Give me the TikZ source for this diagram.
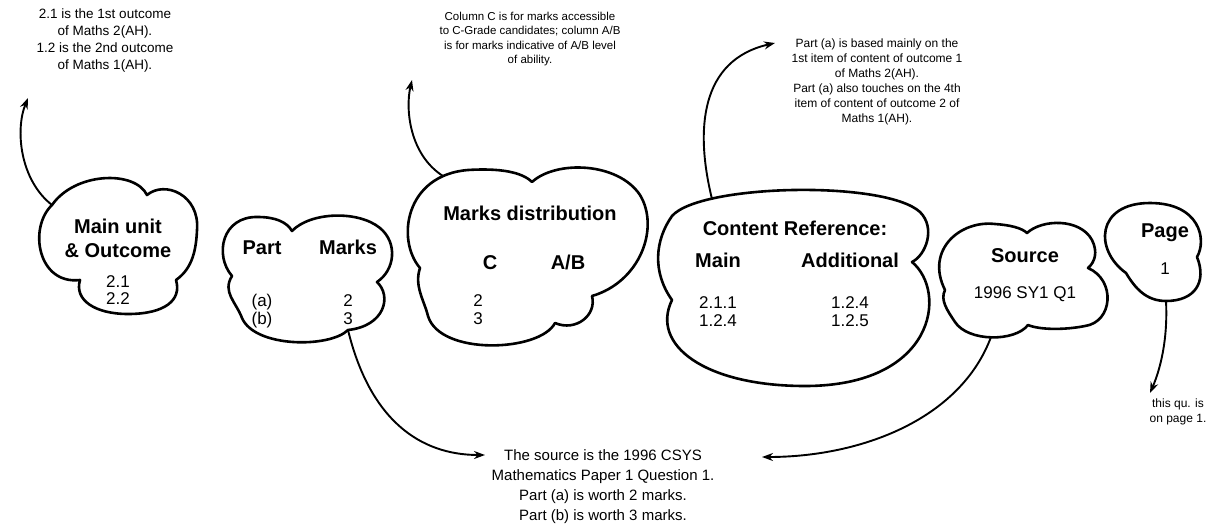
\documentclass[tikz,border=0pt]{standalone}
\usepackage{fontspec}
\setmainfont{Liberation Sans}
\usetikzlibrary{arrows.meta}
\begin{document}
\begin{tikzpicture}[x=1pt,y=-1pt,
  cloudline/.style={line width=2.6pt, line join=round},
  conn/.style={line width=1.9pt, -{Stealth[length=11pt,width=8pt]}},
  hd/.style={font=\fontsize{20}{24}\selectfont\bfseries, inner sep=0pt, anchor=base},
  num/.style={font=\fontsize{17}{20}\selectfont, inner sep=0pt, anchor=base},
  ann/.style={align=center, inner sep=0pt},
]
\useasboundingbox (0,0) rectangle (1216,528);

% ---------- clouds ----------
% Main unit & Outcome
\draw[cloudline] (80,280) .. controls (38,285) and (28,228) .. (52,205)
  .. controls (75,172) and (135,170) .. (147,195)
  .. controls (165,180) and (200,195) .. (197,230)
  .. controls (196,255) and (190,270) .. (176,280)
  .. controls (182,300) and (165,314) .. (128,314)
  .. controls (95,314) and (74,300) .. (80,280) -- cycle;
\coordinate (c1) at (52,205);
\node[hd] (mu1) at (118,233) {Main unit};
\node[hd] (mu2) at (118,257) {\& Outcome};
\node[num] (mu3) at (118,287) {2.1};
\node[num] (mu4) at (118,304) {2.2};

% Part / Marks
\draw[cloudline] (232,276) .. controls (214,255) and (222,216) .. (258,217)
  .. controls (275,217) and (287,222) .. (292,231)
  .. controls (310,212) and (358,210) .. (380,228)
  .. controls (398,243) and (395,270) .. (377,282)
  .. controls (392,296) and (385,326) .. (348,330)
  .. controls (330,348) and (255,348) .. (242,318)
  .. controls (236,302) and (222,292) .. (232,276) -- cycle;
\coordinate (c2) at (348,330);
\node[hd] (pm1) at (262,254) {Part};
\node[hd] (pm2) at (348,254) {Marks};
\node[num] (pm3) at (262,306) {(a)};
\node[num] (pm4) at (348,306) {2};
\node[num] (pm5) at (262,324) {(b)};
\node[num] (pm6) at (348,324) {3};

% Marks distribution
\draw[cloudline] (420,268) .. controls (396,240) and (405,175) .. (468,170)
  .. controls (500,168) and (522,172) .. (532,182)
  .. controls (556,160) and (618,162) .. (640,195)
  .. controls (660,228) and (640,282) .. (592,296)
  .. controls (597,315) and (576,332) .. (555,323)
  .. controls (540,352) and (440,356) .. (428,316)
  .. controls (424,300) and (414,286) .. (420,268) -- cycle;
\coordinate (c3) at (443,176);
\node[hd] (md1) at (530,220) {Marks distribution};
\node[hd] (md2) at (490,269) {C};
\node[hd] (md3) at (568,269) {A/B};
\node[num] (md4) at (478,306) {2};
\node[num] (md5) at (478,324) {3};

% Content Reference
\draw[cloudline] (672,300) .. controls (652,272) and (655,240) .. (672,216)
  .. controls (700,184) and (885,180) .. (920,212)
  .. controls (936,228) and (926,255) .. (912,262)
  .. controls (948,292) and (935,386) .. (805,386)
  .. controls (705,386) and (650,345) .. (672,300) -- cycle;
\coordinate (c4) at (712,199);
\node[hd] (cr1) at (795,235) {Content Reference:};
\node[hd] (cr2) at (718,267) {Main};
\node[hd] (cr3) at (850,267) {Additional};
\node[num] (cr4) at (718,308) {2.1.1};
\node[num] (cr5) at (850,308) {1.2.4};
\node[num] (cr6) at (718,326) {1.2.4};
\node[num] (cr7) at (850,326) {1.2.5};

% Source
\draw[cloudline] (945,290) .. controls (925,250) and (960,220) .. (995,224)
  .. controls (1010,225) and (1022,228) .. (1027,233)
  .. controls (1042,219) and (1080,218) .. (1092,240)
  .. controls (1098,252) and (1095,262) .. (1088,268)
  .. controls (1116,280) and (1113,322) .. (1085,326)
  .. controls (1065,330) and (1040,330) .. (1028,325)
  .. controls (1015,342) and (968,342) .. (955,322)
  .. controls (947,310) and (940,300) .. (945,290) -- cycle;
\coordinate (c5) at (991,337);
\node[hd] (so1) at (1025,262) {Source};
\node[num] (so2) at (1025,298) {1996 SY1 Q1};

% Page
\draw[cloudline] (1126,273) .. controls (1094,250) and (1096,203) .. (1150,203)
  .. controls (1200,203) and (1207,240) .. (1197,257)
  .. controls (1207,282) and (1195,301) .. (1166,301)
  .. controls (1146,301) and (1135,288) .. (1126,273) -- cycle;
\coordinate (c6) at (1166,301);
\node[hd] (pg1) at (1165,237) {Page};
\node[num] (pg2) at (1165,274) {1};

% ---------- annotations ----------
\node[ann, font=\fontsize{13.5}{17}\selectfont] (t1) at (105,41)
  {2.1 is the 1st outcome\\of Maths 2(AH).\\1.2 is the 2nd outcome\\of Maths 1(AH).};
\node[ann, font=\fontsize{11.5}{14.5}\selectfont] (t3) at (530,39)
  {Column C is for marks accessible\\to C-Grade candidates; column A/B\\is for marks indicative of A/B level\\of ability.};
\node[ann, font=\fontsize{12}{15}\selectfont] (t4) at (877,82)
  {Part (a) is based mainly on the\\1st item of content of outcome 1\\of Maths 2(AH).\\Part (a) also touches on the 4th\\item of content of outcome 2 of\\Maths 1(AH).};
\node[ann, font=\fontsize{15}{20}\selectfont] (tb) at (603,487)
  {The source is the 1996 CSYS\\Mathematics Paper 1 Question 1.\\Part (a) is worth 2 marks.\\Part (b) is worth 3 marks.};
\node[ann, font=\fontsize{12}{15}\selectfont] (tp) at (1178,412)
  {this qu. is\\on page 1.};

\coordinate (e1) at (28,98);
\coordinate (e3) at (412,80);
\coordinate (e4) at (775,43);
\coordinate (e2) at (485,455);
\coordinate (e5) at (762,457);
\coordinate (e6) at (1150,393);

% ---------- connectors ----------
\draw[conn] (c1) .. controls (20,180) and (15,130) .. (e1);
\draw[conn] (c3) .. controls (410,155) and (405,110) .. (e3);
\draw[conn] (c4) .. controls (695,130) and (700,60) .. (e4);
\draw[conn] (c2) .. controls (370,420) and (420,455) .. (e2);
\draw[conn] (c5) .. controls (960,420) and (860,457) .. (e5);
\draw[conn] (c6) .. controls (1168,340) and (1160,370) .. (e6);
\end{tikzpicture}
\end{document}
